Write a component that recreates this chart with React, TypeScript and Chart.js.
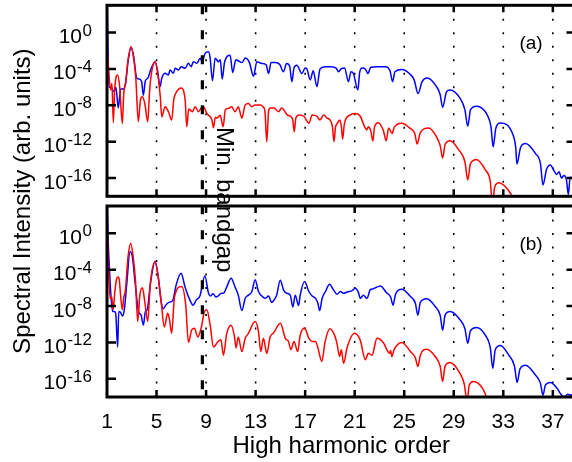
import React, { useEffect, useRef } from 'react';
import { Chart, registerables } from 'chart.js';

Chart.register(...registerables);

// ---------- data (harmonic order, log10 of spectral intensity) ----------
const orderTicks = [1, 5, 9, 13, 17, 21, 25, 29, 33, 37];
const gridOrders = [5, 9, 13, 17, 21, 25, 29, 33, 37];
const decadeTicks = [0, -4, -8, -12, -16];
const orderMin = 1;
const orderMax = 38.83;
const intensityMin = 1e-18;
const intensityMax = 1e3;
const bandgapOrder = 8.7;
const bandgapLabel = 'Min. bandgap';
const panelLabels = ['(a)', '(b)'];
const xTitle = 'High harmonic order';
const yTitle = 'Spectral Intensity (arb. units)';

const topBlue: [number, number][] = [
  [1.0, 4.0], [1.16, -6.0], [1.32, -5.95], [1.45, -6.3], [1.59, -6.5], [1.72, -6.0], [1.91, -8.3],
  [2.1, -6.2], [2.3, -6.2], [2.5, -5.6], [2.7, -3.2], [2.94, -1.6], [3.15, -2.6], [3.4, -5.0],
  [3.6, -5.1], [3.8, -5.4], [3.93, -6.9], [4.1, -5.3], [4.3, -5.0], [4.55, -4.0], [4.88, -3.2],
  [5.1, -4.3], [5.28, -5.95], [5.42, -5.03], [5.69, -4.48], [5.96, -4.66], [6.09, -4.11],
  [6.36, -4.48], [6.5, -3.93], [6.77, -4.11], [6.98, -3.75], [7.31, -3.93], [7.57, -3.38],
  [7.79, -3.75], [7.98, -3.2], [8.25, -3.38], [8.52, -2.83], [8.7, -3.2], [8.92, -2.28],
  [9.19, -2.1], [9.32, -2.7], [9.52, -5.3], [9.73, -2.83], [10.0, -3.2], [10.15, -3.0],
  [10.3, -5.1], [10.5, -3.2], [10.94, -2.5], [11.15, -4.4], [11.4, -3.0], [11.6, -3.1],
  [11.9, -3.3], [12.16, -2.8], [12.5, -3.3], [12.83, -4.8], [13.1, -3.2], [13.5, -3.4],
  [13.85, -3.55], [14.04, -4.5], [14.25, -3.3], [14.6, -3.3], [14.95, -3.5], [15.25, -4.3],
  [15.5, -3.4], [15.75, -3.7], [15.93, -5.4], [16.1, -3.9], [16.33, -3.6], [16.74, -4.5],
  [17.0, -3.9], [17.14, -4.0], [17.41, -5.2], [17.65, -4.2], [17.95, -5.95], [18.2, -4.0],
  [18.6, -3.75], [19.1, -3.75], [19.5, -3.9], [19.7, -4.3], [19.9, -4.0], [20.18, -3.9],
  [20.5, -5.4], [20.7, -4.3], [20.9, -4.5], [21.26, -6.3], [21.4, -4.4], [21.6, -3.9],
  [21.85, -4.0], [22.07, -4.5], [22.3, -3.8], [22.8, -3.75], [23.5, -3.75], [23.85, -4.2],
  [24.06, -5.4], [24.25, -4.3], [24.8, -4.05], [25.5, -4.6], [25.8, -5.2], [26.12, -6.7],
  [26.44, -5.4], [26.85, -5.0], [27.61, -5.95], [27.9, -6.8], [28.1, -8.2], [28.42, -6.5],
  [28.7, -6.3], [29.5, -7.2], [29.9, -8.5], [30.13, -10.3], [30.35, -8.5], [30.83, -8.1],
  [31.7, -9.05], [32.0, -10.3], [32.18, -12.55], [32.4, -10.5], [32.75, -9.95], [33.8, -11.3],
  [34.0, -12.6], [34.1, -14.45], [34.4, -12.6], [34.8, -12.2], [35.6, -13.3], [36.0, -14.4],
  [36.2, -16.75], [36.5, -15.0], [36.8, -14.55], [37.1, -15.2], [37.3, -15.6], [37.5, -15.3],
  [37.7, -16.0], [37.9, -15.7], [38.1, -16.2], [38.25, -17.8], [38.4, -15.9], [38.6, -16.1],
  [38.83, -16.4],
];

const topRed: [number, number][] = [
  [1.0, -1.4], [1.1, -3.5], [1.3, -6.3], [1.4, -5.6], [1.51, -9.9], [1.62, -6.2], [1.86, -4.65],
  [2.02, -5.9], [2.24, -10.0], [2.35, -6.8], [2.5, -5.5], [2.7, -3.0], [2.94, -1.55], [3.15, -2.8],
  [3.32, -4.85], [3.53, -9.8], [3.7, -7.4], [3.86, -7.05], [4.05, -7.8], [4.29, -9.8], [4.45, -6.2],
  [4.65, -4.0], [4.88, -3.2], [5.1, -4.6], [5.3, -7.0], [5.42, -9.25], [5.69, -8.15], [5.96, -8.7],
  [6.22, -9.6], [6.4, -7.3], [6.63, -6.5], [6.98, -6.1], [7.31, -7.4], [7.44, -10.35], [7.6, -8.4],
  [7.71, -8.5], [7.9, -8.7], [8.12, -8.15], [8.39, -8.7], [8.6, -8.3], [8.79, -8.15], [9.06, -8.9],
  [9.3, -9.2], [9.47, -9.6], [9.6, -10.45], [9.75, -9.3], [9.87, -9.4], [10.14, -9.1],
  [10.38, -10.35], [10.55, -8.5], [10.8, -8.35], [11.07, -8.15], [11.34, -8.7], [11.6, -8.15],
  [11.89, -9.4], [12.16, -7.95], [12.42, -7.8], [12.7, -8.15], [12.96, -7.95], [13.4, -7.95],
  [13.6, -8.15], [13.75, -8.6], [13.9, -12.0], [14.05, -8.6], [14.2, -8.3], [14.5, -8.3],
  [14.85, -8.7], [15.1, -8.3], [15.55, -9.05], [15.8, -9.2], [16.0, -9.6], [16.12, -10.9],
  [16.25, -9.4], [16.5, -9.05], [16.9, -9.2], [17.3, -9.97], [17.57, -9.05], [17.95, -9.2],
  [18.2, -9.6], [18.5, -9.05], [18.77, -9.4], [19.0, -9.6], [19.2, -10.3], [19.33, -12.0],
  [19.45, -10.4], [19.6, -9.97], [19.8, -9.6], [19.92, -10.3], [20.03, -11.7], [20.15, -10.2],
  [20.25, -9.6], [20.65, -9.05], [21.05, -8.9], [21.45, -9.2], [21.8, -10.35], [21.98, -10.7],
  [22.1, -10.35], [22.3, -10.8], [22.47, -11.9], [22.6, -10.4], [22.9, -9.9], [23.3, -10.7],
  [23.55, -11.9], [23.74, -10.5], [24.02, -11.1], [24.2, -10.4], [24.8, -9.97], [25.45, -10.5],
  [25.85, -11.1], [26.05, -12.25], [26.3, -11.0], [26.98, -10.5], [27.6, -11.45], [27.9, -12.4],
  [28.1, -13.8], [28.3, -12.3], [28.7, -11.9], [29.4, -12.9], [29.9, -14.2], [30.13, -16.2],
  [30.35, -14.4], [30.83, -13.95], [31.55, -15.1], [31.95, -16.4], [32.13, -19.0], [32.3, -17.0],
  [32.63, -16.5], [33.4, -17.3], [33.8, -18.3], [34.0, -19.0],
];

const bottomBlue: [number, number][] = [
  [1.0, 4.0], [1.1, -1.0], [1.19, -3.7], [1.3, -6.5], [1.45, -8.6], [1.59, -8.6], [1.7, -8.8],
  [1.86, -12.5], [1.95, -8.6], [2.1, -8.7], [2.25, -9.1], [2.4, -8.4], [2.6, -5.5], [2.86, -2.0],
  [3.05, -2.6], [3.26, -5.3], [3.55, -8.6], [3.75, -9.0], [3.94, -10.1], [4.1, -8.6], [4.25, -8.4],
  [4.5, -5.6], [4.88, -3.1], [5.1, -4.4], [5.42, -7.9], [5.55, -8.3], [5.75, -7.9], [6.0, -7.6],
  [6.3, -7.4], [6.6, -5.6], [6.98, -4.4], [7.3, -5.9], [7.7, -7.35], [7.95, -7.9], [8.2, -7.35],
  [8.5, -6.9], [8.9, -4.7], [9.2, -6.6], [9.35, -6.9], [9.56, -6.65], [9.8, -7.0], [9.97, -6.9],
  [10.24, -6.6], [10.4, -6.6], [10.67, -5.9], [11.02, -4.95], [11.34, -5.9], [11.6, -6.8],
  [11.89, -8.5], [12.16, -7.15], [12.42, -6.8], [12.7, -6.4], [12.96, -5.1], [13.23, -6.4],
  [13.5, -6.9], [13.77, -7.15], [14.04, -6.9], [14.3, -7.6], [14.57, -7.15], [14.7, -6.8],
  [14.99, -5.15], [15.26, -6.25], [15.53, -6.6], [15.8, -6.8], [16.0, -8.1], [16.2, -6.8],
  [16.47, -7.95], [16.6, -6.8], [16.95, -5.3], [17.3, -6.4], [17.57, -6.9], [17.84, -7.15],
  [18.03, -7.7], [18.17, -8.5], [18.37, -7.15], [18.64, -6.4], [18.97, -5.6], [19.3, -6.25],
  [19.57, -6.7], [19.84, -6.4], [20.1, -6.6], [20.4, -6.45], [20.8, -6.3], [21.05, -6.05],
  [21.3, -6.5], [21.45, -7.15], [21.7, -6.8], [21.99, -7.15], [22.26, -6.2], [22.5, -6.1],
  [23.07, -5.8], [23.55, -6.5], [23.9, -7.0], [24.1, -7.9], [24.3, -6.7], [24.8, -6.15],
  [25.5, -6.95], [25.9, -7.7], [26.1, -9.0], [26.3, -7.6], [26.83, -7.2], [27.5, -8.05],
  [27.9, -9.0], [28.1, -10.65], [28.3, -9.0], [28.7, -8.6], [29.5, -9.5], [29.9, -10.5],
  [30.13, -12.1], [30.35, -10.7], [30.83, -10.35], [31.55, -11.2], [31.95, -12.6],
  [32.15, -14.85], [32.35, -12.8], [32.77, -12.35], [33.44, -13.4], [33.9, -14.6],
  [34.12, -16.4], [34.35, -14.9], [34.8, -14.5], [35.6, -15.6], [36.0, -16.5], [36.2, -17.8],
  [36.4, -16.7], [36.8, -16.4], [37.35, -17.05], [37.6, -17.6], [37.9, -18.0], [38.2, -17.7],
  [38.45, -17.8], [38.83, -17.5],
];

const bottomRed: [number, number][] = [
  [1.0, 1.3], [1.1, -3.0], [1.25, -7.15], [1.38, -7.0], [1.5, -8.4], [1.62, -6.6], [1.78, -5.0],
  [1.91, -4.8], [2.0, -5.2], [2.12, -7.2], [2.24, -8.4], [2.35, -7.1], [2.48, -6.3], [2.7, -2.6],
  [2.91, -1.1], [3.15, -3.0], [3.3, -5.2], [3.48, -9.7], [3.65, -6.8], [3.86, -6.0], [4.05, -7.5],
  [4.29, -9.7], [4.5, -5.5], [4.88, -3.1], [5.1, -4.5], [5.38, -7.6], [5.63, -10.3], [5.9, -8.8],
  [6.05, -9.5], [6.22, -11.0], [6.45, -7.0], [7.03, -5.85], [7.35, -7.8], [7.58, -12.0],
  [7.85, -10.6], [8.06, -10.45], [8.33, -11.4], [8.6, -10.45], [8.87, -8.6], [9.06, -8.4],
  [9.33, -10.1], [9.6, -12.5], [9.97, -11.9], [10.2, -11.7], [10.4, -13.4], [10.67, -11.0],
  [11.02, -10.1], [11.3, -11.4], [11.42, -12.6], [11.6, -11.4], [11.89, -13.0], [12.16, -11.55],
  [12.42, -11.0], [12.96, -9.7], [13.23, -10.8], [13.42, -13.0], [13.63, -11.55], [13.9, -13.2],
  [14.17, -11.4], [14.43, -11.0], [15.0, -9.9], [15.4, -11.55], [15.66, -11.9], [15.85, -12.8],
  [16.1, -11.9], [16.4, -13.0], [16.6, -11.2], [16.95, -10.4], [17.3, -11.55], [17.57, -11.9],
  [17.84, -11.9], [18.03, -12.6], [18.35, -14.1], [18.6, -12.0], [19.0, -10.5], [19.37, -11.2],
  [19.57, -12.1], [19.78, -13.55], [19.92, -12.8], [20.1, -14.3], [20.4, -12.5], [20.97, -11.0],
  [21.45, -11.75], [21.86, -13.9], [22.1, -13.2], [22.4, -13.4], [22.8, -11.55], [23.35, -12.1],
  [23.6, -12.8], [23.8, -13.2], [23.9, -12.9], [24.0, -13.55], [24.18, -12.8], [24.8, -12.0],
  [25.5, -13.0], [25.9, -13.7], [26.1, -14.65], [26.3, -13.4], [26.83, -12.75], [27.5, -13.55],
  [27.9, -14.6], [28.1, -16.3], [28.3, -14.6], [28.7, -14.2], [29.5, -15.4], [29.85, -16.6],
  [30.08, -18.5], [30.25, -16.7], [30.6, -16.3], [31.3, -17.0], [31.7, -18.2], [31.9, -19.0],
];

// ---------- styling ----------
const FONT = '"Liberation Sans", Arial, Helvetica, sans-serif';
const BLUE = '#0000ff';
const RED = '#ff0000';

const toPoints = (series: [number, number][]) =>
  series.map(([order, exponent]) => ({ x: order, y: Math.pow(10, exponent) }));

const panelPlugin = {
  id: 'panelDecor',
  beforeDatasetsDraw(chart: any) {
    const ctx = chart.ctx;
    const xs = chart.scales.x;
    ctx.save();
    ctx.strokeStyle = '#000';
    ctx.lineWidth = 1.6;
    ctx.setLineDash([2, 11.5]);
    for (const id of ['yA', 'yB']) {
      const ys = chart.scales[id];
      for (const h of gridOrders) {
        const px = xs.getPixelForValue(h);
        ctx.beginPath();
        ctx.moveTo(px, ys.top);
        ctx.lineTo(px, ys.bottom);
        ctx.stroke();
      }
    }
    ctx.restore();
  },
  afterDatasetsDraw(chart: any) {
    const ctx = chart.ctx;
    const xs = chart.scales.x;
    const area = chart.chartArea;
    const panels = [chart.scales.yA, chart.scales.yB];
    ctx.save();
    ctx.strokeStyle = '#000';
    ctx.fillStyle = '#000';

    // minimum band gap marker
    const bx = xs.getPixelForValue(bandgapOrder);
    ctx.lineWidth = 3.2;
    ctx.setLineDash([9, 16]);
    ctx.beginPath();
    ctx.moveTo(bx, area.top);
    ctx.lineTo(bx, area.bottom);
    ctx.stroke();
    ctx.setLineDash([]);

    panels.forEach((ys: any, i: number) => {
      // ticks
      ctx.lineWidth = 2.5;
      ctx.beginPath();
      for (const h of gridOrders) {
        const px = xs.getPixelForValue(h);
        ctx.moveTo(px, ys.top);
        ctx.lineTo(px, ys.top + 7);
        ctx.moveTo(px, ys.bottom);
        ctx.lineTo(px, ys.bottom - 7);
      }
      for (const e of decadeTicks) {
        const py = ys.getPixelForValue(Math.pow(10, e));
        ctx.moveTo(area.left, py);
        ctx.lineTo(area.left + 9, py);
        ctx.moveTo(area.right, py);
        ctx.lineTo(area.right - 9, py);
      }
      ctx.stroke();
      // frame
      ctx.lineWidth = 3;
      ctx.strokeRect(area.left, ys.top, area.right - area.left, ys.bottom - ys.top);

      // y tick labels 10^e
      ctx.textAlign = 'left';
      ctx.textBaseline = 'alphabetic';
      for (const e of decadeTicks) {
        const py = ys.getPixelForValue(Math.pow(10, e));
        const sup = String(e);
        ctx.font = `21px ${FONT}`;
        const wb = ctx.measureText('10').width;
        ctx.font = `17px ${FONT}`;
        const ws = ctx.measureText(sup).width;
        const right = area.left - 15;
        ctx.font = `21px ${FONT}`;
        ctx.fillText('10', right - ws - wb - 0.5, py + 10.5);
        ctx.font = `17px ${FONT}`;
        ctx.fillText(sup, right - ws, py + 3);
      }

      // panel label
      ctx.font = `19px ${FONT}`;
      ctx.textAlign = 'center';
      ctx.textBaseline = 'middle';
      ctx.fillText(panelLabels[i], area.right - 44.5, ys.top + 38.5);
    });

    // x tick labels (bottom panel only)
    const yb = panels[1];
    ctx.font = `21px ${FONT}`;
    ctx.textAlign = 'center';
    ctx.textBaseline = 'alphabetic';
    for (const h of orderTicks) {
      ctx.fillText(String(h), xs.getPixelForValue(h), yb.bottom + 31);
    }

    // axis titles
    ctx.font = `24px ${FONT}`;
    ctx.fillText(xTitle, (area.left + area.right) / 2, yb.bottom + 56);

    ctx.save();
    ctx.translate(30, (area.top + area.bottom) / 2);
    ctx.rotate(-Math.PI / 2);
    ctx.textAlign = 'center';
    ctx.fillText(yTitle, 0, 0);
    ctx.restore();

    // band gap label
    ctx.save();
    ctx.font = `24px ${FONT}`;
    ctx.translate(bx + 15, 127);
    ctx.rotate(Math.PI / 2);
    ctx.textAlign = 'left';
    ctx.textBaseline = 'alphabetic';
    ctx.fillText(bandgapLabel, 0, 0);
    ctx.restore();

    ctx.restore();
  },
};

export default function App() {
  const canvasRef = useRef<HTMLCanvasElement | null>(null);

  useEffect(() => {
    const canvas = canvasRef.current;
    if (!canvas) return;
    const lineStyle = {
      pointRadius: 0,
      borderWidth: 1.5,
      fill: false,
      cubicInterpolationMode: 'monotone' as const,
      xAxisID: 'x',
    };
    const chart = new Chart(canvas, {
      type: 'line',
      data: {
        datasets: [
          { ...lineStyle, label: 'top red', data: toPoints(topRed), borderColor: RED, yAxisID: 'yA' },
          { ...lineStyle, label: 'bottom red', data: toPoints(bottomRed), borderColor: RED, yAxisID: 'yB' },
          { ...lineStyle, label: 'top blue', data: toPoints(topBlue), borderColor: BLUE, yAxisID: 'yA' },
          { ...lineStyle, label: 'bottom blue', data: toPoints(bottomBlue), borderColor: BLUE, yAxisID: 'yB' },
        ],
      },
      options: {
        animation: false,
        responsive: false,
        devicePixelRatio: 1,
        events: [],
        layout: { padding: { left: 107, right: 4.5, top: 5.3, bottom: 65 } },
        plugins: { legend: { display: false }, tooltip: { enabled: false } },
        scales: {
          x: { type: 'linear', min: orderMin, max: orderMax, display: false },
          yA: {
            type: 'logarithmic', position: 'right', stack: 'panels', stackWeight: 191, weight: 1,
            min: intensityMin, max: intensityMax, display: false,
          },
          yGap: {
            type: 'linear', position: 'right', stack: 'panels', stackWeight: 9.7, weight: 2,
            display: false,
          },
          yB: {
            type: 'logarithmic', position: 'right', stack: 'panels', stackWeight: 191, weight: 3,
            min: intensityMin, max: intensityMax, display: false,
          },
        } as any,
      },
      plugins: [panelPlugin],
    });
    return () => chart.destroy();
  }, []);

  return (
    <div
      style={{
        position: 'fixed', left: 0, top: 0, width: 572, height: 462,
        overflow: 'hidden', background: '#fff',
      }}
    >
      <canvas ref={canvasRef} width={580} height={462} style={{ width: 580, height: 462, display: 'block' }} />
    </div>
  );
}
